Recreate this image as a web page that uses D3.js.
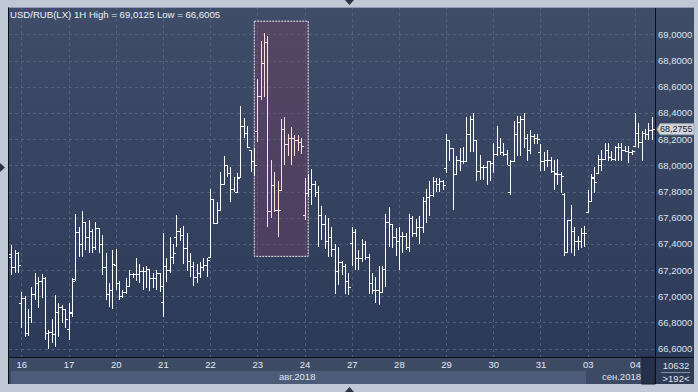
<!DOCTYPE html>
<html>
<head>
<meta charset="utf-8">
<script src="https://cdn.jsdelivr.net/npm/d3@7"></script>
<style>
  body { margin: 0; background: #bfc9d6; }
  text { font-family: "Liberation Sans", Arial, sans-serif; }
</style>
</head>
<body>
<div id="chart"></div>
<script>
// trading days shown on the time axis, 14 hourly bars per full day
const dayLabels = ["16", "17", "20", "21", "22", "23", "24", "27", "28", "29", "30", "31", "03", "04"];
const monthLabels = ["авг.2018", "сен.2018"];
const yTicks = [66.6, 66.8, 67.0, 67.2, 67.4, 67.6, 67.8, 68.0, 68.2, 68.4, 68.6, 68.8, 69.0];
const title = "USD/RUB(LX) 1H High = 69,0125 Low = 66,6005";
const lastPrice = 68.2755;
const infoLines = ["10632", ">192<"];

// [open, high, low, close]
const bars15 = [
  [67.28, 67.38, 67.20, 67.32], [67.30, 67.39, 67.16, 67.22], [67.22, 67.35, 67.18, 67.33], [67.33, 67.34, 67.18, 67.24]
];
const bars16 = [
  [66.95, 67.03, 66.76, 66.99], [66.99, 67.00, 66.69, 66.72], [66.72, 66.90, 66.70, 66.84], [66.84, 67.07, 66.80, 67.02],
  [67.02, 67.18, 66.97, 67.10], [67.10, 67.15, 66.91, 67.12], [67.12, 67.17, 66.99, 67.14], [67.14, 67.15, 66.67, 66.72],
  [66.72, 66.74, 66.6005, 66.73], [66.73, 66.83, 66.64, 66.71], [66.71, 67.01, 66.61, 66.88], [66.88, 66.95, 66.69, 66.92],
  [66.92, 66.93, 66.80, 66.90], [66.90, 66.90, 66.76, 66.83]
];
const bars17 = [
  [66.75, 66.95, 66.67, 66.88], [66.87, 67.14, 66.84, 67.12], [67.13, 67.63, 67.12, 67.49], [67.49, 67.53, 67.30, 67.40],
  [67.40, 67.65, 67.30, 67.57], [67.57, 67.57, 67.35, 67.45], [67.45, 67.58, 67.33, 67.50], [67.50, 67.51, 67.33, 67.38],
  [67.38, 67.57, 67.35, 67.52], [67.52, 67.52, 67.33, 67.40], [67.40, 67.47, 67.16, 67.22], [67.22, 67.33, 66.97, 67.02],
  [67.02, 67.10, 66.92, 67.05], [67.05, 67.35, 66.90, 67.25]
];
const bars20 = [
  [67.24, 67.36, 67.05, 67.10], [67.10, 67.12, 66.97, 67.00], [67.00, 67.05, 66.99, 67.03], [67.03, 67.14, 67.02, 67.08],
  [67.08, 67.20, 67.07, 67.17], [67.17, 67.18, 67.14, 67.17], [67.17, 67.29, 67.12, 67.17], [67.17, 67.25, 67.10, 67.19],
  [67.19, 67.22, 67.05, 67.19], [67.19, 67.23, 67.06, 67.21], [67.21, 67.21, 67.04, 67.14], [67.14, 67.18, 67.06, 67.14],
  [67.14, 67.20, 67.05, 67.18], [67.18, 67.18, 67.03, 67.08]
];
const bars21 = [
  [66.96, 67.48, 66.84, 67.23], [67.23, 67.29, 67.11, 67.20], [67.20, 67.45, 67.18, 67.30], [67.30, 67.40, 67.25, 67.33],
  [67.45, 67.62, 67.38, 67.50], [67.50, 67.52, 67.42, 67.47], [67.47, 67.54, 67.25, 67.37], [67.37, 67.48, 67.19, 67.27],
  [67.27, 67.33, 67.15, 67.23], [67.23, 67.26, 67.08, 67.15], [67.15, 67.25, 67.10, 67.18], [67.18, 67.26, 67.14, 67.22],
  [67.22, 67.29, 67.19, 67.24], [67.24, 67.29, 67.15, 67.28]
];
const bars22 = [
  [67.30, 67.82, 67.29, 67.74], [67.74, 67.74, 67.55, 67.56], [67.56, 67.72, 67.55, 67.66], [67.66, 67.95, 67.65, 67.86],
  [67.86, 68.07, 67.86, 68.00], [68.00, 68.00, 67.91, 67.94], [67.94, 67.99, 67.72, 67.82], [67.82, 67.91, 67.80, 67.80],
  [67.80, 67.94, 67.80, 67.90], [67.91, 68.45, 67.91, 68.30], [68.30, 68.36, 68.21, 68.25], [68.25, 68.30, 68.13, 68.14],
  [68.12, 68.12, 67.95, 68.03], [68.03, 68.13, 67.92, 68.00]
];
const bars23 = [
  [68.26, 68.66, 68.18, 68.53], [68.53, 68.95, 68.50, 68.78], [68.78, 69.0125, 68.52, 68.94], [68.94, 68.99, 67.53, 67.65],
  [67.65, 68.04, 67.60, 67.85], [67.85, 67.95, 67.64, 67.66], [67.66, 67.88, 67.45, 67.66], [67.81, 68.35, 67.81, 68.28],
  [68.28, 68.37, 68.00, 68.16], [68.16, 68.24, 68.07, 68.21], [68.21, 68.29, 68.00, 68.21], [68.21, 68.23, 68.07, 68.19],
  [68.19, 68.23, 68.11, 68.18], [68.18, 68.21, 68.09, 68.15]
];
const bars24 = [
  [67.62, 67.90, 67.58, 67.79], [67.79, 67.93, 67.76, 67.82], [67.82, 67.97, 67.70, 67.86], [67.86, 67.88, 67.76, 67.80],
  [67.80, 67.84, 67.38, 67.62], [67.62, 67.69, 67.43, 67.55], [67.55, 67.62, 67.36, 67.42], [67.42, 67.60, 67.30, 67.45],
  [67.45, 67.53, 67.30, 67.36], [67.36, 67.40, 67.02, 67.19], [67.19, 67.38, 67.09, 67.26], [67.26, 67.27, 67.16, 67.23],
  [67.23, 67.25, 67.02, 67.12], [67.12, 67.18, 67.01, 67.07]
];
const bars27 = [
  [67.41, 67.53, 67.23, 67.49], [67.49, 67.51, 67.20, 67.29], [67.29, 67.35, 67.20, 67.29], [67.29, 67.44, 67.26, 67.40],
  [67.40, 67.42, 67.28, 67.30], [67.30, 67.32, 67.02, 67.10], [67.10, 67.18, 67.02, 67.05], [67.05, 67.15, 66.95, 67.05],
  [67.05, 67.23, 66.93, 67.03], [67.03, 67.23, 67.03, 67.21], [67.21, 67.63, 67.07, 67.57], [67.57, 67.68, 67.38, 67.55],
  [67.55, 67.55, 67.37, 67.45], [67.45, 67.52, 67.31, 67.42]
];
const bars28 = [
  [67.42, 67.53, 67.20, 67.46], [67.46, 67.49, 67.33, 67.46], [67.46, 67.48, 67.35, 67.38], [67.38, 67.63, 67.34, 67.60],
  [67.60, 67.61, 67.45, 67.48], [67.48, 67.59, 67.45, 67.53], [67.53, 67.61, 67.40, 67.53], [67.53, 67.76, 67.48, 67.73],
  [67.73, 67.82, 67.56, 67.76], [67.76, 67.88, 67.61, 67.77], [67.77, 67.91, 67.76, 67.88], [67.88, 67.90, 67.80, 67.86],
  [67.86, 67.90, 67.80, 67.88], [67.88, 67.89, 67.81, 67.85]
];
const bars29 = [
  [67.98, 68.24, 67.94, 68.19], [68.19, 68.19, 68.03, 68.13], [68.13, 68.13, 67.66, 67.93], [67.93, 68.07, 67.93, 68.04],
  [68.04, 68.13, 67.96, 68.03], [68.03, 68.14, 68.01, 68.03], [68.03, 68.37, 68.03, 68.24], [68.24, 68.38, 68.10, 68.35],
  [68.35, 68.40, 68.10, 68.19], [68.19, 68.19, 67.88, 67.96], [67.96, 68.08, 67.89, 67.99], [67.99, 68.00, 67.89, 67.99],
  [67.99, 68.03, 67.85, 68.03], [68.03, 68.03, 67.88, 68.02]
];
const bars30 = [
  [68.02, 68.17, 67.94, 68.09], [68.09, 68.30, 68.07, 68.14], [68.14, 68.21, 68.08, 68.10], [68.10, 68.17, 68.07, 68.09],
  [68.09, 68.12, 68.00, 68.00], [67.80, 68.04, 67.77, 68.03], [68.03, 68.34, 68.03, 68.24], [68.24, 68.38, 68.07, 68.33],
  [68.33, 68.38, 68.07, 68.35], [68.35, 68.40, 68.13, 68.21], [68.21, 68.24, 68.03, 68.12], [68.12, 68.27, 68.09, 68.22],
  [68.22, 68.24, 68.16, 68.21], [68.21, 68.24, 68.16, 68.20]
];
const bars31 = [
  [68.10, 68.16, 67.96, 68.03], [68.03, 68.10, 67.96, 68.04], [68.04, 68.12, 67.99, 68.04], [68.04, 68.06, 67.94, 67.96],
  [67.96, 68.04, 67.81, 67.94], [67.93, 68.05, 67.85, 67.93], [67.93, 67.95, 67.79, 67.92], [67.78, 67.79, 67.31, 67.34],
  [67.34, 67.58, 67.34, 67.58], [67.58, 67.70, 67.33, 67.50], [67.50, 67.53, 67.31, 67.42], [67.42, 67.46, 67.35, 67.42],
  [67.42, 67.52, 67.37, 67.48], [67.48, 67.54, 67.38, 67.48]
];
const bars03 = [
  [67.64, 67.81, 67.64, 67.73], [67.73, 67.93, 67.73, 67.91], [67.90, 67.99, 67.79, 67.87], [67.94, 68.08, 67.93, 68.05],
  [68.00, 68.12, 67.96, 68.05], [68.05, 68.17, 68.04, 68.12], [68.12, 68.17, 68.03, 68.06], [68.06, 68.11, 68.03, 68.05],
  [68.05, 68.15, 68.03, 68.14], [68.14, 68.17, 68.03, 68.14], [68.14, 68.17, 68.03, 68.12], [68.12, 68.15, 68.10, 68.11],
  [68.11, 68.15, 68.02, 68.10], [68.10, 68.12, 68.08, 68.11]
];
const bars04 = [
  [68.15, 68.40, 68.14, 68.25], [68.25, 68.32, 68.13, 68.18], [68.18, 68.26, 68.03, 68.25], [68.25, 68.28, 68.19, 68.24],
  [68.24, 68.32, 68.19, 68.27], [68.27, 68.37, 68.19, 68.2755]
];
// the boxed area on the chart (bar indices and price band)
const boxBars = [74, 88];
const boxPrices = [67.305, 69.10];

const bars = [].concat(bars15, bars16, bars17, bars20, bars21, bars22, bars23, bars24,
  bars27, bars28, bars29, bars30, bars31, bars03, bars04)
  .map((d, i) => ({ i, o: d[0], h: d[1], l: d[2], c: d[3] }));

const perDay = 14;
const lead = bars15.length;
const dayStarts = dayLabels.map((d, k) => lead + k * perDay);

const W = 698, H = 392;
const plot = { left: 8.5, top: 7, right: 655, bottom: 357 };
const axisRight = 694;
const stripBottom = 384;

const x = d3.scaleLinear().domain([lead, lead + 13 * perDay]).range([21.3, 634.9]);
const y = d3.scaleLinear().domain([66.6, 69.0]).range([348.7, 34.3]);
const step = x(1) - x(0);

const fmt = v => d3.format(".4f")(v).replace(".", ",");

const svg = d3.select("#chart").append("svg")
  .attr("width", W)
  .attr("height", H)
  .style("display", "block");

const defs = svg.append("defs");
const grad = defs.append("linearGradient")
  .attr("id", "bg")
  .attr("x1", 0).attr("y1", 0).attr("x2", 0).attr("y2", 1);
grad.append("stop").attr("offset", "0%").attr("stop-color", "#3f4d69");
grad.append("stop").attr("offset", "100%").attr("stop-color", "#2c3a59");

defs.append("clipPath").attr("id", "clip")
  .append("rect")
  .attr("x", plot.left).attr("y", plot.top)
  .attr("width", plot.right - plot.left).attr("height", plot.bottom - plot.top);

// outer window
svg.append("rect").attr("width", W).attr("height", H).attr("fill", "#bfc9d6");

// panels
svg.append("rect")
  .attr("x", plot.left).attr("y", plot.top)
  .attr("width", axisRight - plot.left).attr("height", plot.bottom - plot.top)
  .attr("fill", "url(#bg)");

svg.append("rect")
  .attr("x", plot.left).attr("y", plot.bottom)
  .attr("width", plot.right - plot.left).attr("height", stripBottom - plot.bottom)
  .attr("fill", "#3d4a64");

// month strip
const augEnd = x(lead + 12 * perDay) - step / 2;
svg.append("rect")
  .attr("x", 11).attr("y", 371)
  .attr("width", augEnd - 11).attr("height", stripBottom - 371)
  .attr("fill", "#4c5b77");

svg.append("rect")
  .attr("x", 642).attr("y", plot.bottom)
  .attr("width", plot.right - 642).attr("height", stripBottom - plot.bottom)
  .attr("fill", "#263149")
  .attr("stroke", "#1a2234");

svg.append("rect")
  .attr("x", plot.right).attr("y", plot.bottom)
  .attr("width", axisRight - plot.right).attr("height", stripBottom - plot.bottom)
  .attr("fill", "#2f3c57");

// grid
const grid = svg.append("g")
  .attr("stroke", "#5b6a88")
  .attr("stroke-opacity", 0.75)
  .attr("stroke-dasharray", "3,3")
  .attr("shape-rendering", "crispEdges");

grid.selectAll(".gy").data(yTicks).join("line")
  .attr("x1", plot.left).attr("x2", plot.right)
  .attr("y1", d => Math.round(y(d)) + 0.5).attr("y2", d => Math.round(y(d)) + 0.5);

grid.selectAll(".gx").data(dayStarts).join("line")
  .attr("y1", plot.top).attr("y2", plot.bottom)
  .attr("x1", d => Math.round(x(d)) + 0.5).attr("x2", d => Math.round(x(d)) + 0.5);

// boxed area
svg.append("rect")
  .attr("x", x(boxBars[0]) - step * 0.9)
  .attr("y", y(boxPrices[1]))
  .attr("width", x(boxBars[1]) - x(boxBars[0]) + step * 2)
  .attr("height", y(boxPrices[0]) - y(boxPrices[1]))
  .attr("fill", "#7e3d60")
  .attr("fill-opacity", 0.34)
  .attr("stroke", "#f0e6e8")
  .attr("stroke-width", 1)
  .attr("stroke-dasharray", "2,1");

// OHLC bars
const inBox = d => d.i >= boxBars[0] && d.i <= boxBars[1];
svg.append("g")
  .attr("clip-path", "url(#clip)")
  .attr("fill", "none")
  .attr("stroke-width", 1)
  .attr("shape-rendering", "crispEdges")
  .selectAll("path")
  .data(bars)
  .join("path")
  .attr("stroke", d => inBox(d) ? "#ffdede" : "#ffffff")
  .attr("d", d => {
    const xp = Math.round(x(d.i)) + 0.5;
    return `M${xp},${y(d.h)}V${y(d.l)}M${xp - 2.5},${Math.round(y(d.o)) + 0.5}H${xp}M${xp},${Math.round(y(d.c)) + 0.5}H${xp + 2.5}`;
  });

// right price axis
const yAxis = d3.axisRight(y)
  .tickValues(yTicks)
  .tickFormat(fmt)
  .tickSize(0)
  .tickPadding(3);

const gY = svg.append("g")
  .attr("transform", `translate(${plot.right},0)`)
  .call(yAxis);
gY.select(".domain").remove();
gY.selectAll("text")
  .style("font-size", "9.5px")
  .attr("fill", "#dbe3ef");

// time axis
const xAxis = d3.axisBottom(x)
  .tickValues(dayStarts)
  .tickFormat((d, i) => dayLabels[i])
  .tickSize(0)
  .tickPadding(4);

const gX = svg.append("g")
  .attr("transform", `translate(0,${plot.bottom})`)
  .call(xAxis);
gX.select(".domain").remove();
gX.selectAll("text")
  .style("font-size", "9.5px")
  .attr("fill", "#e3e9f3");

// month labels
svg.append("text")
  .attr("x", (plot.left + augEnd) / 2)
  .attr("y", 380)
  .attr("text-anchor", "middle")
  .attr("fill", "#dfe5ef")
  .style("font-size", "9.5px")
  .text(monthLabels[0]);

svg.append("text")
  .attr("x", 641)
  .attr("y", 380)
  .attr("text-anchor", "end")
  .attr("fill", "#dfe5ef")
  .style("font-size", "9.5px")
  .text(monthLabels[1]);

// frame lines
const frame = svg.append("g").attr("stroke", "#0b0f18").attr("shape-rendering", "crispEdges");
frame.append("line").attr("x1", plot.left).attr("x2", plot.left).attr("y1", plot.top).attr("y2", stripBottom);
frame.append("line").attr("x1", plot.right + 0.5).attr("x2", plot.right + 0.5).attr("y1", plot.top).attr("y2", stripBottom);
frame.append("line").attr("x1", plot.left).attr("x2", axisRight).attr("y1", plot.bottom + 0.5).attr("y2", plot.bottom + 0.5);
svg.append("line")
  .attr("x1", plot.left).attr("x2", axisRight)
  .attr("y1", plot.top + 0.5).attr("y2", plot.top + 0.5)
  .attr("stroke", "#8f9cb2");

// title
svg.append("text")
  .attr("x", 10)
  .attr("y", 18)
  .attr("fill", "#eef1f6")
  .style("font-size", "9.6px")
  .text(title);

// last price tag
const ty = y(lastPrice);
svg.append("path")
  .attr("d", `M${plot.right + 2},${ty} L${plot.right + 5},${ty - 5.5} H${axisRight} V${ty + 5.5} H${plot.right + 5} Z`)
  .attr("fill", "#d3d7dd")
  .attr("stroke", "#9aa3b0");
svg.append("text")
  .attr("x", plot.right + 5)
  .attr("y", ty)
  .attr("dy", "0.34em")
  .attr("fill", "#1c2230")
  .style("font-size", "9px")
  .text(fmt(lastPrice));

// info box
svg.append("text")
  .attr("x", 676).attr("y", 369)
  .attr("text-anchor", "middle")
  .attr("fill", "#dfe5ef")
  .style("font-size", "9.5px")
  .text(infoLines[0]);
svg.append("line")
  .attr("x1", 661).attr("x2", 690).attr("y1", 372.5).attr("y2", 372.5)
  .attr("stroke", "#8390a6");
svg.append("text")
  .attr("x", 676).attr("y", 382)
  .attr("text-anchor", "middle")
  .attr("fill", "#dfe5ef")
  .style("font-size", "9.5px")
  .text(infoLines[1]);

// scroll markers
svg.append("path").attr("d", "M345,0 H354 L349.5,5 Z").attr("fill", "#2a3243");
svg.append("path").attr("d", "M345,392 H354 L349.5,387 Z").attr("fill", "#2a3243");
svg.append("path").attr("d", "M0,163 V172 L5,167.5 Z").attr("fill", "#2a3243");
</script>
</body>
</html>
